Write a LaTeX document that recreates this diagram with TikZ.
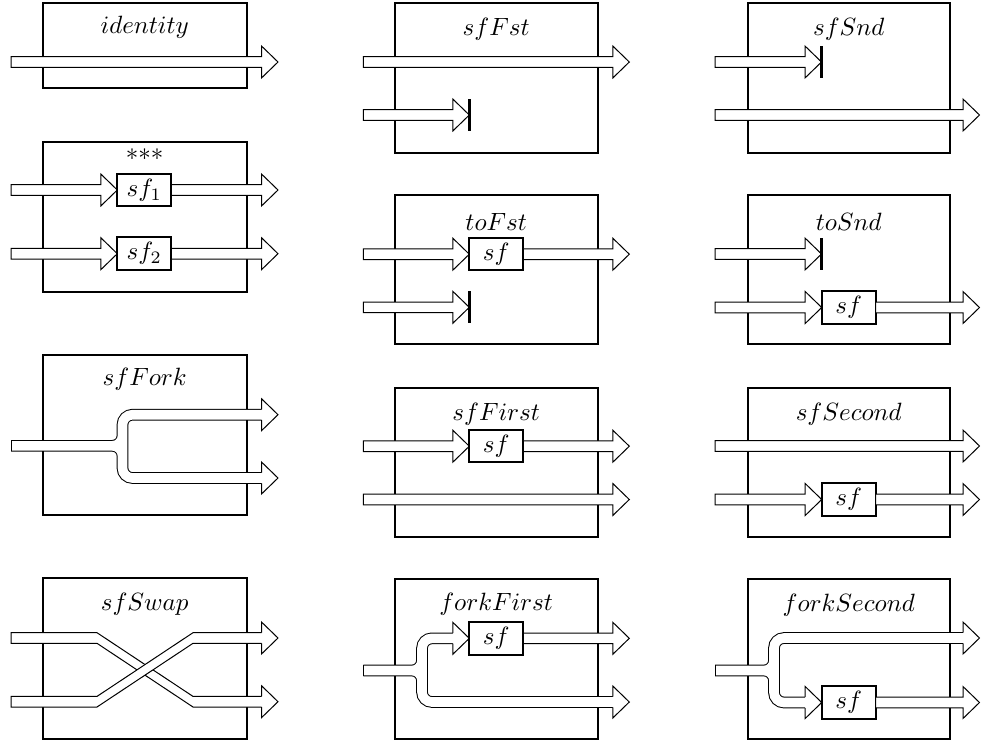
\documentclass[tikz,border=0pt]{standalone}
\usetikzlibrary{fit}
\tikzset{
  blk/.style={draw, line width=0.8pt, rectangle, inner sep=0pt, outer sep=0pt},
  sfbox/.style={draw, fill=white, line width=0.8pt, rectangle, inner sep=0pt, outer sep=0pt, minimum width=21.6pt, minimum height=13pt},
  chan/.style={draw, double=white, double distance=3.84pt, line width=0.4pt, rounded corners=4pt},
  chanpoly/.style={draw, fill=white, line width=0.4pt, line join=miter},
  ttl/.style={anchor=base, inner sep=0pt},
  stopbar/.style={line width=1pt},
}
% straight fat arrow: start x, tip x, y
\newcommand\fatarrow[3]{\draw[chanpoly] (#1,#3-5.3) -- (#2-16.5,#3-5.3) -- (#2-16.5,#3-16) -- (#2,#3) -- (#2-16.5,#3+16) -- (#2-16.5,#3+5.3) -- (#1,#3+5.3) -- cycle;}
% arrow head only: tip x, y
\newcommand\arrhead[2]{\fill[white] (#1-16.5,#2-16) -- (#1,#2) -- (#1-16.5,#2+16) -- cycle;
  \draw[line width=0.4pt, line join=miter] (#1-16.5,#2-5.3) -- (#1-16.5,#2-16) -- (#1,#2) -- (#1-16.5,#2+16) -- (#1-16.5,#2+5.3);}
% closing line at the start of a channel
\newcommand\chcap[2]{\draw[line width=0.4pt] (#1,#2-5.3) -- (#1,#2+5.3);}
% stopper bar
\newcommand\stopat[2]{\draw[stopbar] (#1,#2-16) -- (#1,#2+16);}
\begin{document}
\begin{tikzpicture}[x=0.4pt, y=-0.4pt]
\useasboundingbox (0,0) rectangle (982,742);

% ---------------- boxes ----------------
\node[blk, fit={(42.7,3.3) (246.7,88.3)}] (bId) {};
\node[blk, fit={(42.7,142.3) (246.7,292.3)}] (bPar) {};
\node[blk, fit={(42.7,355) (246.7,515)}] (bFork) {};
\node[blk, fit={(42.7,578) (246.7,739)}] (bSwap) {};

\node[blk, fit={(395,3.3) (597.5,153)}] (bFst) {};
\node[blk, fit={(395,195) (597.5,344.3)}] (bToFst) {};
\node[blk, fit={(395,387.7) (597.5,536.7)}] (bFirst) {};
\node[blk, fit={(395,579.3) (597.5,739)}] (bForkFirst) {};

\node[blk, fit={(747.7,3.3) (950,153)}] (bSnd) {};
\node[blk, fit={(747.7,195) (950,344.3)}] (bToSnd) {};
\node[blk, fit={(747.7,387.7) (950,536.7)}] (bSecond) {};
\node[blk, fit={(747.7,579.3) (950,739)}] (bForkSecond) {};

% ---------------- titles ----------------
\node[ttl] (tId) at (144.7,33.5) {$identity$};
\node[anchor=center, inner sep=0pt] (tPar) at (144.7,158) {***};
\node[ttl] (tFork) at (144.7,385) {$sfFork$};
\node[ttl] (tSwap) at (144.7,610) {$sfSwap$};

\node[ttl] (tFst) at (496.2,35) {$sfFst$};
\node[ttl] (tToFst) at (496.2,230) {$toFst$};
\node[ttl] (tFirst) at (496.2,420) {$sfFirst$};
\node[ttl] (tForkFirst) at (496.2,610) {$forkFirst$};

\node[ttl] (tSnd) at (848.8,35) {$sfSnd$};
\node[ttl] (tToSnd) at (848.8,230) {$toSnd$};
\node[ttl] (tSecond) at (848.8,420) {$sfSecond$};
\node[ttl] (tForkSecond) at (848.8,611) {$forkSecond$};

% ---------------- column 1 ----------------
% identity
\fatarrow{11}{278}{62}
% ***
\fatarrow{11}{117.3}{190}
\node[sfbox] (sfA) at (144.3,190) {$sf_1$};
\fatarrow{171.3}{278}{190}
\fatarrow{11}{117.3}{253.7}
\node[sfbox] (sfB) at (144.3,253.7) {$sf_2$};
\fatarrow{171.3}{278}{253.7}
% sfFork
\draw[chan] (11,445.8) -- (122.5,445.8) -- (122.5,414.7) -- (262,414.7)
            (11,445.8) -- (122.5,445.8) -- (122.5,478) -- (262,478)
            (122.5,424.7) -- (122.5,468);
\chcap{11}{445.8}
\arrhead{278}{414.7}
\arrhead{278}{478}
% sfSwap
\draw[chanpoly] (11,632.7) -- (97,632.7) -- (193,696.4) -- (263,696.4) -- (263,707) -- (193,707) -- (97,643.3) -- (11,643.3) -- cycle;
\arrhead{278}{701.7}
\draw[chanpoly] (11,696.4) -- (97,696.4) -- (193,632.7) -- (263,632.7) -- (263,643.3) -- (193,643.3) -- (97,707) -- (11,707) -- cycle;
\arrhead{278}{638}

% ---------------- column 2 ----------------
% sfFst
\fatarrow{363.3}{629.3}{62}
\fatarrow{363.3}{469.3}{115}
\stopat{469.3}{115}
% toFst
\fatarrow{363.3}{469.3}{254.2}
\node[sfbox] (sfC) at (496.3,254.2) {$sf$};
\fatarrow{523.3}{629.3}{254.2}
\fatarrow{363.3}{469.3}{307.3}
\stopat{469.3}{307.3}
% sfFirst
\fatarrow{363.3}{469.3}{446.2}
\node[sfbox] (sfD) at (496.3,446.2) {$sf$};
\fatarrow{523.3}{629.3}{446.2}
\fatarrow{363.3}{629.3}{499.5}
% forkFirst
\draw[chan] (363.3,670.5) -- (422,670.5) -- (422,638.3) -- (453.3,638.3)
            (363.3,670.5) -- (422,670.5) -- (422,702) -- (613.3,702)
            (422,648.3) -- (422,692);
\chcap{363.3}{670.5}
\arrhead{469.3}{638.3}
\node[sfbox] (sfE) at (496.3,638.3) {$sf$};
\fatarrow{523.3}{629.3}{638.3}
\arrhead{629.3}{702}

% ---------------- column 3 ----------------
% sfSnd
\fatarrow{715}{821.5}{62}
\stopat{821.5}{62}
\fatarrow{715}{979.5}{115}
% toSnd
\fatarrow{715}{821.5}{254}
\stopat{821.5}{254}
\fatarrow{715}{821.7}{307.5}
\node[sfbox] (sfF) at (848.7,307.5) {$sf$};
\fatarrow{875.7}{979.5}{307.5}
% sfSecond
\fatarrow{715}{979.5}{446}
\fatarrow{715}{821.7}{499.5}
\node[sfbox] (sfG) at (848.7,499.5) {$sf$};
\fatarrow{875.7}{979.5}{499.5}
% forkSecond
\draw[chan] (715,670.5) -- (774,670.5) -- (774,638) -- (963.5,638)
            (715,670.5) -- (774,670.5) -- (774,702.5) -- (805.7,702.5)
            (774,648) -- (774,692.5);
\chcap{715}{670.5}
\arrhead{979.5}{638}
\arrhead{821.7}{702.5}
\node[sfbox] (sfH) at (848.7,702.5) {$sf$};
\fatarrow{875.7}{979.5}{702.5}
\end{tikzpicture}
\end{document}
